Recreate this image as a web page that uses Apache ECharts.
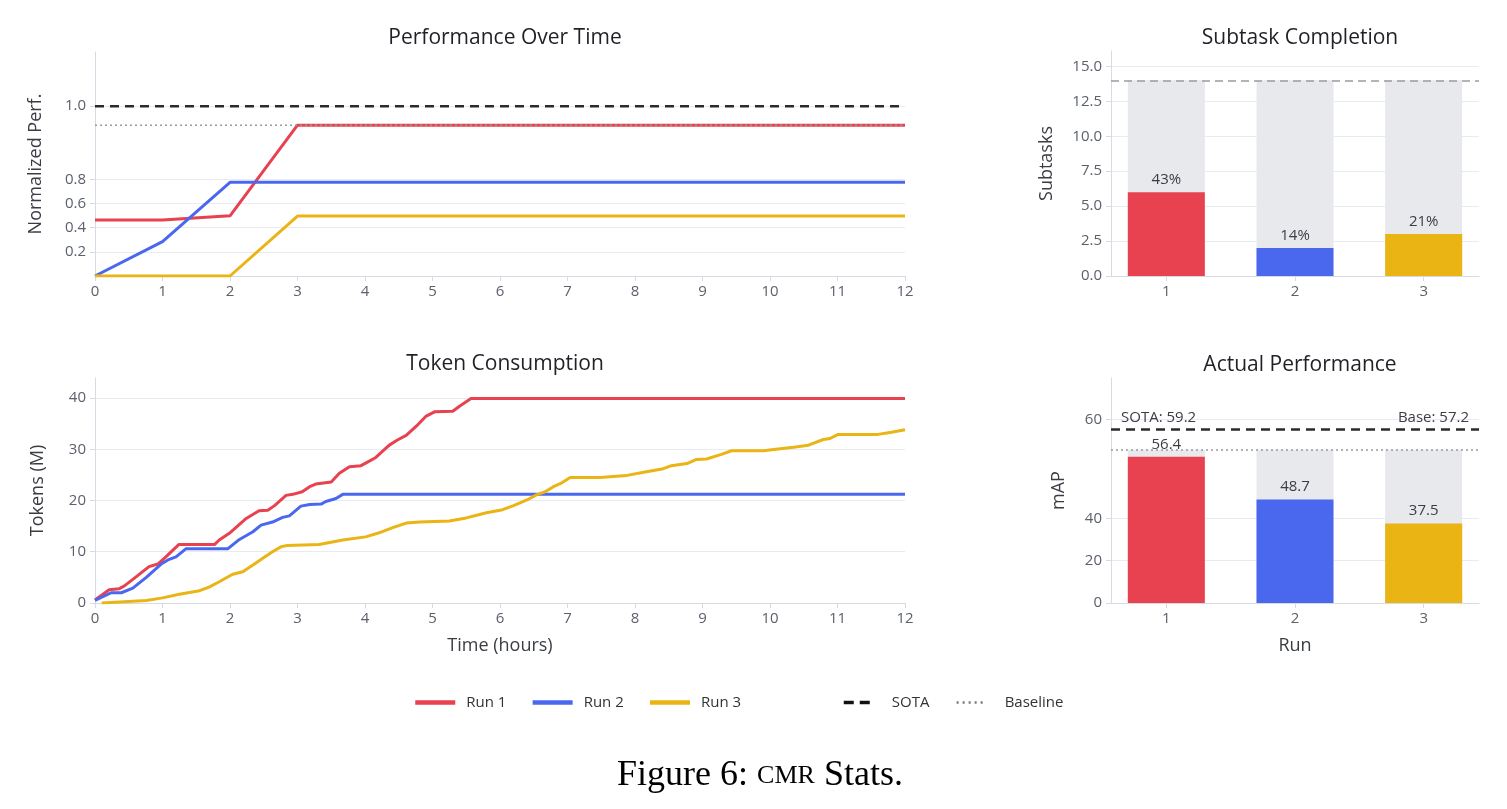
<!DOCTYPE html>
<html>
<head>
<meta charset="utf-8">
<script src="https://cdn.jsdelivr.net/npm/echarts@6.0.0/dist/echarts.min.js"></script>
<style>
html,body{margin:0;padding:0;background:#fff;}
#c{width:1507px;height:809px;}
</style>
</head>
<body>
<div id="c"></div>
<script>
// ---------------- DATA ----------------
const runNames = ['Run 1', 'Run 2', 'Run 3'];
const runColors = ['#E8414F', '#4A68EE', '#E9B414'];
const hours = [0,1,2,3,4,5,6,7,8,9,10,11,12];

// Normalized performance per hour
const perfRun1 = [0.463,0.463,0.498,0.948,0.948,0.948,0.948,0.948,0.948,0.948,0.948,0.948,0.948];
const perfRun2 = [0,0.284,0.775,0.775,0.775,0.775,0.775,0.775,0.775,0.775,0.775,0.775,0.775];
const perfRun3 = [0,0,0,0.496,0.496,0.496,0.496,0.496,0.496,0.496,0.496,0.496,0.496];
const perfSOTA = 1.0;
const perfBaseline = 0.948;
const perfTickLabels = [0.2,0.4,0.6,0.8,1.0];

// Token consumption [hours, tokens (M)]
const tokenRun1 = [[0,0.6],[0.21,2.6],[0.36,2.8],[0.43,3.3],[0.58,4.8],[0.80,7.1],[0.93,7.6],[1.05,9.0],[1.24,11.4],[1.77,11.4],[1.84,12.3],[1.99,13.6],[2.24,16.5],[2.43,18.0],[2.56,18.1],[2.66,19.0],[2.83,21.0],[2.93,21.2],[3.07,21.7],[3.18,22.7],[3.27,23.2],[3.50,23.6],[3.62,25.3],[3.77,26.6],[3.94,26.8],[4.01,27.3],[4.16,28.4],[4.36,30.8],[4.48,31.8],[4.61,32.7],[4.76,34.5],[4.90,36.4],[5.03,37.3],[5.30,37.4],[5.40,38.4],[5.57,39.9],[12,39.9]];
const tokenRun2 = [[0,0.5],[0.24,2.0],[0.39,2.0],[0.56,2.9],[0.76,5.0],[0.98,7.6],[1.08,8.4],[1.20,9.0],[1.35,10.6],[1.97,10.6],[2.14,12.4],[2.34,13.9],[2.46,15.2],[2.63,15.8],[2.78,16.7],[2.88,17.0],[3.05,18.9],[3.18,19.2],[3.35,19.3],[3.42,19.8],[3.57,20.4],[3.67,21.2],[12,21.2]];
const tokenRun3 = [[0.1,0],[0.76,0.5],[1.0,1.0],[1.25,1.7],[1.55,2.4],[1.69,3.1],[1.82,4.0],[2.04,5.6],[2.19,6.1],[2.34,7.4],[2.48,8.7],[2.63,10.0],[2.76,11.0],[2.85,11.2],[3.32,11.4],[3.67,12.3],[4.01,12.9],[4.21,13.7],[4.41,14.7],[4.61,15.6],[4.81,15.8],[5.25,16.0],[5.50,16.6],[5.80,17.6],[6.04,18.2],[6.2,19.0],[6.4,20.1],[6.54,21.1],[6.67,21.7],[6.79,22.7],[6.91,23.4],[7.04,24.5],[7.48,24.5],[7.88,24.9],[8.17,25.6],[8.42,26.2],[8.54,26.8],[8.77,27.2],[8.91,28.0],[9.06,28.1],[9.28,29.0],[9.43,29.7],[9.90,29.7],[10.15,30.1],[10.35,30.4],[10.57,30.8],[10.79,31.9],[10.89,32.1],[11.01,32.9],[11.14,32.9],[11.6,32.9],[11.8,33.3],[12.0,33.8]];
const tokenTicks = [0,10,20,30,40];

// Subtask completion
const runs = [1,2,3];
const subtasksDone = [6,2,3];
const subtasksTotal = 14;
const subtaskTicks = [0,2.5,5,7.5,10,12.5,15];

// Actual performance (mAP)
const mapValues = [56.4,48.7,37.5];
const mapSOTA = 59.2;
const mapBase = 57.2;
const mapTicks = [0,20,40,60];

// ---------------- SCALES (axis transforms) ----------------
function perfScale(v){ return v <= 0.8 ? v : 0.8 + (v - 0.8) * 3.025; }
function perfInv(d){ return d <= 0.8 ? d : 0.8 + (d - 0.8) / 3.025; }
function mapScale(v){ return v <= 40 ? v : 40 + 5.193 * (Math.exp(0.115 * (v - 40)) - 1); }
function mapInv(d){ return d <= 40 ? d : 40 + Math.log(1 + (d - 40) / 5.193) / 0.115; }

// ---------------- STYLE ----------------
const FONT = 'Open Sans';
const AX_LINE = '#D6DAE2';
const GRID_LINE = '#E8EBF1';
const TICK_TXT = '#5B606B';
const NAME_TXT = '#3A3D44';
const TITLE_TXT = '#1F2126';

function baseAxis(gridIndex){
  return {
    gridIndex: gridIndex,
    axisLine: {show: true, lineStyle: {color: AX_LINE, width: 1}},
    axisTick: {show: true, length: 5, lineStyle: {color: AX_LINE}},
    axisLabel: {color: TICK_TXT, fontFamily: FONT, fontSize: 15, margin: 8},
    splitLine: {show: false},
    nameTextStyle: {color: NAME_TXT, fontFamily: FONT, fontSize: 18}
  };
}

const chart = echarts.init(document.getElementById('c'), null, {renderer: 'canvas'});

const grids = [
  {left: 95, top: 52, width: 810, height: 224, outerBoundsMode: 'none'},
  {left: 95, top: 378, width: 810, height: 225, outerBoundsMode: 'none'},
  {left: 1111, top: 51, width: 368, height: 225, outerBoundsMode: 'none'},
  {left: 1111, top: 378, width: 368, height: 225, outerBoundsMode: 'none'}
];

const xAxes = [
  Object.assign(baseAxis(0), {type: 'value', min: 0, max: 12, interval: 1}),
  Object.assign(baseAxis(1), {type: 'value', min: 0, max: 12, interval: 1,
    name: 'Time (hours)', nameLocation: 'middle', nameGap: 34}),
  Object.assign(baseAxis(2), {type: 'value', min: 0.57, max: 3.43}),
  Object.assign(baseAxis(3), {type: 'value', min: 0.57, max: 3.43,
    name: 'Run', nameLocation: 'middle', nameGap: 34})
];
[2, 3].forEach(k => {
  xAxes[k].axisTick = Object.assign({}, xAxes[k].axisTick, {customValues: runs});
  xAxes[k].axisLabel = Object.assign({}, xAxes[k].axisLabel, {customValues: runs});
});

function yAxisWith(gridIndex, opts, tickVals, fmt){
  const a = baseAxis(gridIndex);
  a.type = 'value';
  a.axisTick = Object.assign({}, a.axisTick, {customValues: tickVals});
  a.axisLabel = Object.assign({}, a.axisLabel, {customValues: tickVals, formatter: fmt, margin: 9});
  a.splitLine = {show: true, lineStyle: {color: GRID_LINE, width: 1}};
  a.nameLocation = 'middle';
  return Object.assign(a, opts);
}

const yAxes = [
  yAxisWith(0, {min: 0, max: perfScale(1.148), name: 'Normalized Perf.', nameGap: 50},
    perfTickLabels.map(perfScale), v => perfInv(v).toFixed(1)),
  yAxisWith(1, {min: 0, max: 43.9, name: 'Tokens (M)', nameGap: 48},
    tokenTicks, v => String(Math.round(v))),
  yAxisWith(2, {min: 0, max: 16.1, name: 'Subtasks', nameGap: 55},
    subtaskTicks, v => v.toFixed(1)),
  yAxisWith(3, {min: 0, max: mapScale(62.8), name: 'mAP', nameGap: 43},
    mapTicks.map(mapScale), v => String(Math.round(mapInv(v))))
];

const series = [];
const perfRuns = [perfRun1, perfRun2, perfRun3];
perfRuns.forEach((arr, i) => {
  series.push({
    name: runNames[i], type: 'line', xAxisIndex: 0, yAxisIndex: 0,
    data: arr.map((v, j) => [hours[j], perfScale(v)]),
    symbol: 'none', lineStyle: {color: runColors[i], width: 3}, itemStyle: {color: runColors[i]},
    silent: true, animation: false
  });
});
series.push({
  name: 'SOTA', type: 'line', xAxisIndex: 0, yAxisIndex: 0,
  data: [[hours[0], perfScale(perfSOTA)], [hours[hours.length - 1], perfScale(perfSOTA)]],
  symbol: 'none', lineStyle: {color: '#2B2B2B', width: 2.5, type: [9, 6]}, itemStyle: {color: '#2B2B2B'},
  silent: true, animation: false
});
series.push({
  name: 'Baseline', type: 'line', xAxisIndex: 0, yAxisIndex: 0,
  data: [[hours[0], perfScale(perfBaseline)], [hours[hours.length - 1], perfScale(perfBaseline)]],
  symbol: 'none', lineStyle: {color: '#9A9A9A', width: 1.5, type: [2, 3]}, itemStyle: {color: '#9A9A9A'},
  silent: true, animation: false
});

const tokenRuns = [tokenRun1, tokenRun2, tokenRun3];
tokenRuns.forEach((arr, i) => {
  series.push({
    name: runNames[i], type: 'line', xAxisIndex: 1, yAxisIndex: 1,
    data: arr, symbol: 'none',
    lineStyle: {color: runColors[i], width: 3}, itemStyle: {color: runColors[i]},
    silent: true, animation: false
  });
});

// Subtask completion bars
series.push({
  name: 'Total', type: 'bar', xAxisIndex: 2, yAxisIndex: 2, barWidth: 77, barGap: '-100%',
  data: runs.map(r => [r, subtasksTotal]), itemStyle: {color: '#E8E9ED'},
  silent: true, animation: false
});
series.push({
  name: 'Done', type: 'bar', xAxisIndex: 2, yAxisIndex: 2, barWidth: 77, barGap: '-100%',
  data: runs.map((r, i) => ({value: [r, subtasksDone[i]], itemStyle: {color: runColors[i]}})),
  label: {show: true, position: 'top', distance: 5, color: '#3A3D44', fontFamily: FONT, fontSize: 15,
    formatter: p => Math.round(subtasksDone[p.dataIndex] / subtasksTotal * 100) + '%'},
  markLine: {silent: true, symbol: 'none', animation: false,
    lineStyle: {color: '#9A9CA3', type: [8, 5], width: 1.5}, label: {show: false},
    data: [{yAxis: subtasksTotal}]},
  silent: true, animation: false
});

// Actual performance bars
series.push({
  name: 'BaseBg', type: 'bar', xAxisIndex: 3, yAxisIndex: 3, barWidth: 77, barGap: '-100%',
  data: runs.map(r => [r, mapScale(mapBase)]), itemStyle: {color: '#E8E9ED'},
  silent: true, animation: false
});
series.push({
  name: 'mAP', type: 'bar', xAxisIndex: 3, yAxisIndex: 3, barWidth: 77, barGap: '-100%',
  data: runs.map((r, i) => ({value: [r, mapScale(mapValues[i])], itemStyle: {color: runColors[i]}})),
  label: {show: true, position: 'top', distance: 5, color: '#3A3D44', fontFamily: FONT, fontSize: 15,
    formatter: p => mapValues[p.dataIndex].toFixed(1)},
  markLine: {silent: true, symbol: 'none', animation: false,
    label: {color: '#3A3D44', fontFamily: FONT, fontSize: 15, distance: [10, 4]},
    data: [
      {yAxis: mapScale(mapBase), lineStyle: {color: '#9A9A9A', type: [2, 3], width: 1.5}, label: {show: false}},
      {yAxis: mapScale(mapSOTA), lineStyle: {color: 'rgba(0,0,0,0)', width: 0.1},
        label: {show: true, position: 'insideEndTop', formatter: 'Base: ' + mapBase.toFixed(1)}},
      {yAxis: mapScale(mapSOTA), lineStyle: {color: '#2B2B2B', type: [9, 6], width: 2.5},
        label: {show: true, position: 'insideStartTop', formatter: 'SOTA: ' + mapSOTA.toFixed(1)}}
    ]},
  silent: true, animation: false
});

const titleStyle = {color: TITLE_TXT, fontFamily: FONT, fontSize: 21, fontWeight: 'normal'};
const hideSymbol = {opacity: 0, color: 'rgba(0,0,0,0)', borderWidth: 0};

const option = {
  backgroundColor: '#ffffff',
  animation: false,
  textStyle: {fontFamily: FONT},
  title: [
    {text: 'Performance Over Time', left: 500, top: 23, textAlign: 'center', textStyle: titleStyle},
    {text: 'Token Consumption', left: 500, top: 349, textAlign: 'center', textStyle: titleStyle},
    {text: 'Subtask Completion', left: 1295, top: 23, textAlign: 'center', textStyle: titleStyle},
    {text: 'Actual Performance', left: 1295, top: 350, textAlign: 'center', textStyle: titleStyle},
    {text: '{a|Figure 6: }{b|CMR}{a| Stats.}', left: 755, top: 753, textAlign: 'center',
      textStyle: {fontWeight: 'normal', rich: {
        a: {fontFamily: 'Liberation Serif', fontSize: 36, fontWeight: 'normal', color: '#000'},
        b: {fontFamily: 'Liberation Serif', fontSize: 26, fontWeight: 'normal', color: '#000'}
      }}}
  ],
  legend: [
    {left: 408, top: 690, itemWidth: 40, itemHeight: 3, itemGap: 24,
      textStyle: {color: '#333', fontFamily: FONT, fontSize: 15, padding: [0, 0, 0, 6]},
      itemStyle: hideSymbol,
      data: runNames.map(n => ({name: n, lineStyle: {width: 4.5}, itemStyle: hideSymbol})),
      selectedMode: false},
    {left: 837, top: 690, itemWidth: 30, itemHeight: 3, itemGap: 26,
      textStyle: {color: '#333', fontFamily: FONT, fontSize: 15, padding: [0, 0, 0, 13]},
      itemStyle: hideSymbol,
      data: [{name: 'SOTA', lineStyle: {width: 3.5, type: [10, 6], color: '#111'}, itemStyle: hideSymbol},
             {name: 'Baseline', lineStyle: {width: 2.5, type: [2, 4], color: '#777'}, itemStyle: hideSymbol}],
      selectedMode: false}
  ],
  grid: grids,
  xAxis: xAxes,
  yAxis: yAxes,
  series: series
};

chart.setOption(option);
</script>
</body>
</html>
